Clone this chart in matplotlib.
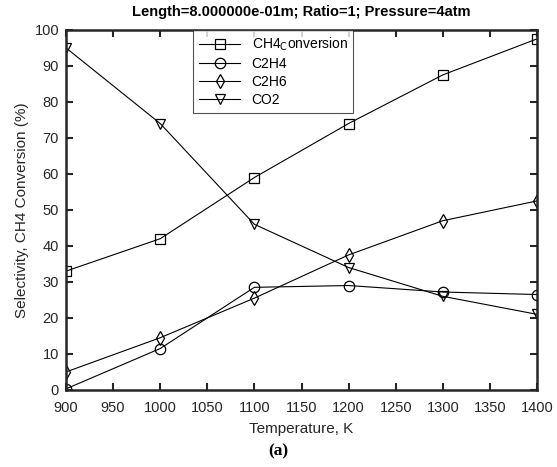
import matplotlib
matplotlib.use('Agg')
from matplotlib import pyplot as plt

plt.rcParams['font.family'] = ['Liberation Sans', 'DejaVu Sans']

temps = [900, 1000, 1100, 1200, 1300, 1400]
ch4_conv = [33, 42, 59, 74, 87.5, 97.5]
c2h4 = [0.3, 11.5, 28.5, 29, 27.2, 26.5]
c2h6 = [5, 14.5, 25.5, 37.5, 47, 52.5]
co2 = [95, 74, 46, 34, 26, 21]

fig = plt.figure(figsize=(5.57, 4.67), dpi=100)
ax = fig.add_axes([0.1185, 0.165, 0.8456, 0.771])

kw = dict(color='black', lw=0.8, mfc='none', mec='black', mew=0.9, ms=7.5)
ax.plot(temps, ch4_conv, marker='s', label='CH4$_{\\mathrm{C}}$onversion', **dict(kw, ms=6.5))
ax.plot(temps, c2h4, marker='o', label='C2H4', **kw)
ax.plot(temps, c2h6, marker='d', label='C2H6', **kw)
ax.plot(temps, co2, marker='v', label='CO2', **kw)

ax.set_xlim(900, 1400)
ax.set_ylim(0, 100)
ax.set_xticks(range(900, 1401, 50))
ax.set_yticks(range(0, 101, 10))
ax.tick_params(direction='in', top=True, right=True, length=5, width=1.5,
               labelsize=10.5, colors='#262626')
ax.tick_params(axis='x', pad=8)
ax.tick_params(axis='y', pad=5)
for s in ax.spines.values():
    s.set_linewidth(1.8)
    s.set_color('#262626')

ax.set_xlabel('Temperature, K', fontsize=11, color='#262626', labelpad=5)
ax.set_ylabel('Selectivity, CH4 Conversion (%)', fontsize=11, color='#262626', labelpad=4)
ax.set_title('Length=8.000000e-01m; Ratio=1; Pressure=4atm', fontsize=10.5,
             fontweight='bold', pad=10)

leg = ax.legend(loc='upper left', bbox_to_anchor=(0.27, 1.0), borderaxespad=0,
                fontsize=10, frameon=True, fancybox=False, edgecolor='#262626',
                handlelength=3.0, borderpad=0.4, labelspacing=0.3)
leg.get_frame().set_linewidth(0.8)

fig.text(0.5, 0.033, '(a)', ha='center', va='center', fontsize=12.5,
         fontweight='bold', family='Liberation Serif')

fig.savefig('out.png', dpi=100)
